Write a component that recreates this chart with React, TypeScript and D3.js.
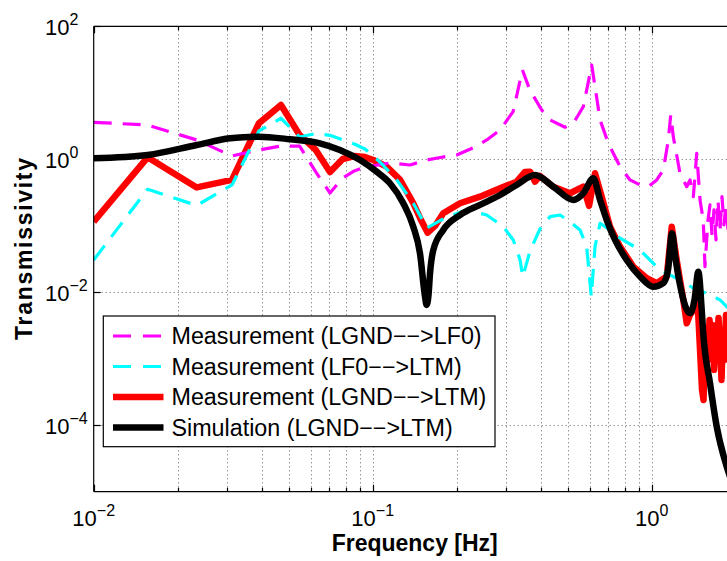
import React from 'react';
import * as d3 from 'd3';

// Measurement (LGND-->LF0)
const magentaFreq = [0.01, 0.0156, 0.0234, 0.0313, 0.0391, 0.0469, 0.0547, 0.0625, 0.0703, 0.0781, 0.0859, 0.0938, 0.1153, 0.136, 0.156, 0.1786, 0.2, 0.2288, 0.2563, 0.286, 0.3186, 0.344, 0.366, 0.4034, 0.432, 0.489, 0.5236, 0.5687, 0.6095, 0.653, 0.699, 0.77, 0.836, 0.908, 0.972, 1.042, 1.1, 1.147, 1.17, 1.195, 1.263, 1.335, 1.372, 1.41, 1.45, 1.49, 1.53, 1.552, 1.591, 1.618, 1.645, 1.672, 1.7, 1.728, 1.757, 1.786, 1.815, 1.846, 1.877, 1.95];
const magentaVal = [3.6, 3.28, 1.95, 1.12, 1.38, 1.58, 1.58, 0.645, 0.311, 0.524, 0.667, 0.766, 0.879, 0.82, 0.975, 1.08, 1.16, 1.48, 1.95, 2.75, 5.2, 22, 11, 5.5, 3.9, 3.03, 3.48, 6.18, 26.2, 3.9, 1.74, 0.774, 0.489, 0.411, 0.387, 0.489, 0.69, 1.95, 4.63, 2.19, 0.616, 0.387, 0.489, 0.274, 1.23, 0.244, 0.122, 0.0243, 0.122, 0.206, 0.0728, 0.173, 0.0611, 0.244, 0.0865, 0.274, 0.103, 0.206, 0.0865, 0.2];

// Measurement (LF0-->LTM)
const cyanFreq = [0.01, 0.0156, 0.0234, 0.0313, 0.0391, 0.0469, 0.0547, 0.0625, 0.0703, 0.0781, 0.0859, 0.0938, 0.1062, 0.122, 0.1398, 0.1565, 0.1815, 0.2173, 0.2563, 0.2938, 0.319, 0.3375, 0.3449, 0.3664, 0.3977, 0.432, 0.469, 0.5096, 0.5534, 0.5848, 0.6074, 0.6264, 0.653, 0.7087, 0.77, 0.908, 1.071, 1.263, 1.41, 1.574, 1.757, 1.857, 1.95];
const cyanVal = [0.0306, 0.354, 0.202, 0.411, 2.67, 4.14, 2.16, 2.44, 2.29, 1.95, 1.7, 1.43, 0.91, 0.489, 0.218, 0.0927, 0.131, 0.173, 0.145, 0.0968, 0.0611, 0.0306, 0.017, 0.0418, 0.0895, 0.137, 0.145, 0.115, 0.0865, 0.0485, 0.0086, 0.0485, 0.109, 0.0865, 0.0649, 0.0432, 0.0216, 0.0153, 0.0115, 0.00966, 0.00766, 0.00607, 0.005];

// Measurement (LGND-->LTM)
const redFreq = [0.01, 0.0156, 0.0234, 0.0313, 0.0391, 0.0469, 0.0547, 0.0625, 0.0703, 0.0781, 0.0859, 0.0938, 0.1005, 0.1122, 0.1254, 0.1398, 0.149, 0.1574, 0.1673, 0.179, 0.2056, 0.2424, 0.286, 0.328, 0.3515, 0.3664, 0.3818, 0.3977, 0.444, 0.5096, 0.5687, 0.5962, 0.6264, 0.662, 0.7087, 0.77, 0.859, 0.96, 1.042, 1.132, 1.18, 1.229, 1.298, 1.335, 1.372, 1.41, 1.4535, 1.4777, 1.4961, 1.5147, 1.5336, 1.5527, 1.5721, 1.5915, 1.6114, 1.6314, 1.6517, 1.6723, 1.6932, 1.7142, 1.7356, 1.7572, 1.7791, 1.8013, 1.8237, 1.8464, 1.8771, 1.95];
const redVal = [0.115, 1.07, 0.377, 0.489, 3.48, 6.56, 2.32, 1.38, 0.644, 1.01, 1.12, 1.08, 0.975, 0.774, 0.489, 0.218, 0.122, 0.0787, 0.0993, 0.154, 0.218, 0.274, 0.366, 0.46, 0.644, 0.651, 0.46, 0.561, 0.387, 0.308, 0.387, 0.199, 0.615, 0.274, 0.0968, 0.0485, 0.0243, 0.0163, 0.0137, 0.0172, 0.0968, 0.0306, 0.00766, 0.00342, 0.00456, 0.00542, 0.00976, 0.00271, 0.00096, 0.00034, 0.00024, 0.00136, 0.00271, 0.00096, 0.00383, 0.00161, 0.00322, 0.00068, 0.00271, 0.00114, 0.00411, 0.00161, 0.00048, 0.00271, 0.00096, 0.00456, 0.00192, 0.002];

// Simulation (LGND-->LTM)
const blackFreq = [0.01, 0.0156, 0.0234, 0.0308, 0.0389, 0.0505, 0.0647, 0.0763, 0.0901, 0.1033, 0.1153, 0.1287, 0.1398, 0.1477, 0.154, 0.156, 0.1585, 0.1605, 0.1649, 0.179, 0.2056, 0.2424, 0.286, 0.328, 0.3818, 0.444, 0.5236, 0.5687, 0.6175, 0.653, 0.69, 0.739, 0.8136, 0.908, 1.013, 1.1, 1.144, 1.183, 1.212, 1.263, 1.372, 1.4235, 1.469, 1.511, 1.53, 1.618, 1.71, 1.857, 2.0];
const blackVal = [1.035, 1.16, 1.64, 2.07, 2.19, 2.0, 1.74, 1.38, 0.975, 0.651, 0.436, 0.218, 0.0968, 0.0386, 0.0086, 0.00644, 0.0091, 0.0193, 0.0432, 0.0865, 0.145, 0.206, 0.29, 0.411, 0.581, 0.387, 0.244, 0.308, 0.518, 0.244, 0.122, 0.0611, 0.0306, 0.0172, 0.0121, 0.0137, 0.0216, 0.0771, 0.0364, 0.0129, 0.00483, 0.00766, 0.0204, 0.00542, 0.00242, 0.000428, 0.0000953, 0.0000238, 0.00001];

const xMajorTicks = [0.01, 0.1, 1];
const xTickExponents = ['\u22122', '\u22121', '0'];
const yMajorTicks = [1e-4, 1e-2, 1, 100];
const yTickExponents = ['\u22124', '\u22122', '0', '2'];
const legendLabels = [
  'Measurement (LGND\u2212\u2212>LF0)',
  'Measurement (LF0\u2212\u2212>LTM)',
  'Measurement (LGND\u2212\u2212>LTM)',
  'Simulation (LGND\u2212\u2212>LTM)',
];

const FONT = '"Liberation Sans", Arial, Helvetica, sans-serif';

export default function App() {
  const W = 727, H = 561;
  const L = 93.7, R = 735.7, T = 26.3, B = 491.7;
  const x = d3.scaleLog().domain([0.01, 2]).range([L, R]);
  const y = d3.scaleLog().domain([1e-5, 100]).range([B, T]);
  const zip = (f: number[], v: number[]) => f.map((fi, i) => [fi, v[i]] as [number, number]);
  const lin = d3.line<[number, number]>().x(d => x(d[0])).y(d => y(d[1]));
  const smooth = d3.line<[number, number]>().x(d => x(d[0])).y(d => y(d[1])).curve(d3.curveMonotoneX);
  const px = (v: number) => Math.round(v) + 0.5;

  const minor: number[] = [];
  xMajorTicks.forEach(d => { for (let k = 2; k <= 9; k++) { const v = d * k; if (v <= 2.0001) minor.push(v); } });

  const series = [
    { d: lin(zip(redFreq, redVal)), color: '#ff0000', w: 6.5, dash: undefined },
    { d: lin(zip(magentaFreq, magentaVal)), color: '#ff00ff', w: 3.2, dash: '18,11' },
    { d: lin(zip(cyanFreq, cyanVal)), color: '#00ffff', w: 3.2, dash: '18,11' },
    { d: smooth(zip(blackFreq, blackVal)), color: '#000000', w: 6.5, dash: undefined },
  ];

  const legendStyles = [
    { color: '#ff00ff', w: 3.2, dash: '18,12' },
    { color: '#00ffff', w: 3.2, dash: '18,12' },
    { color: '#ff0000', w: 6.5, dash: undefined },
    { color: '#000000', w: 6.5, dash: undefined },
  ];
  const legendY = [336, 366.5, 397, 427.5];

  return (
    <svg width={W} height={H} style={{ position: 'absolute', left: 0, top: 0, display: 'block', background: '#fff' }} fontFamily={FONT}>
      <defs>
        <clipPath id="plotclip"><rect x={L} y={T} width={R - L} height={B - T} /></clipPath>
      </defs>
      <rect x={0} y={0} width={W} height={H} fill="#fff" />
      {/* grid */}
      <g stroke="#666" strokeWidth={1} strokeDasharray="1,3" fill="none">
        {[...minor, 0.1, 1].map((t, i) => (
          <line key={'gx' + i} x1={px(x(t))} x2={px(x(t))} y1={T} y2={B} />
        ))}
        {[1e-4, 1e-2, 1].map((t, i) => (
          <line key={'gy' + i} x1={L} x2={R} y1={px(y(t))} y2={px(y(t))} />
        ))}
      </g>
      {/* data */}
      <g clipPath="url(#plotclip)" fill="none">
        {series.map((s, i) => (
          <path key={i} d={s.d || ''} stroke={s.color} strokeWidth={s.w} strokeDasharray={s.dash} strokeLinejoin="round" />
        ))}
      </g>
      {/* axes */}
      <g stroke="#000" strokeWidth={1.2} fill="none">
        <line x1={L} x2={R} y1={T} y2={T} />
        <line x1={L} x2={R} y1={B} y2={B} />
        <line x1={L} x2={L} y1={T} y2={B} />
        {minor.map((t, i) => (
          <g key={'mt' + i}>
            <line x1={px(x(t))} x2={px(x(t))} y1={B} y2={B - 4} />
            <line x1={px(x(t))} x2={px(x(t))} y1={T} y2={T + 4} />
          </g>
        ))}
        {xMajorTicks.map((t, i) => (
          <g key={'Mt' + i}>
            <line x1={px(x(t))} x2={px(x(t))} y1={B} y2={B - 7} />
            <line x1={px(x(t))} x2={px(x(t))} y1={T} y2={T + 7} />
          </g>
        ))}
        {yMajorTicks.map((t, i) => (
          <line key={'yt' + i} x1={L} x2={L + 7} y1={px(y(t))} y2={px(y(t))} />
        ))}
      </g>
      {/* tick labels */}
      <g fill="#000" fontSize={22}>
        {xMajorTicks.map((t, i) => (
          <text key={'xl' + i} x={x(t)} y={526} textAnchor="middle">
            10<tspan dy={-10} fontSize={16}>{xTickExponents[i]}</tspan>
          </text>
        ))}
        {yMajorTicks.map((t, i) => (
          <text key={'yl' + i} x={45} y={y(t) + 8.5} textAnchor="start">
            10<tspan dy={-10} fontSize={16}>{yTickExponents[i]}</tspan>
          </text>
        ))}
      </g>
      {/* axis labels */}
      <text x={(L + R) / 2} y={551} textAnchor="middle" fontSize={23} fontWeight="bold">Frequency [Hz]</text>
      <text transform="translate(32,249) rotate(-90)" textAnchor="middle" fontSize={23} fontWeight="bold" textLength={182} lengthAdjust="spacing">Transmissivity</text>
      {/* legend */}
      <rect x={103.3} y={316} width={391.7} height={130.7} fill="#fff" stroke="#000" strokeWidth={1.2} />
      {legendLabels.map((lab, i) => (
        <g key={'lg' + i}>
          <line x1={113} x2={163.5} y1={legendY[i]} y2={legendY[i]} stroke={legendStyles[i].color} strokeWidth={legendStyles[i].w} strokeDasharray={legendStyles[i].dash} />
          <text x={171.5} y={legendY[i] + 8.2} fontSize={23.3} fill="#000">{lab}</text>
        </g>
      ))}
    </svg>
  );
}
